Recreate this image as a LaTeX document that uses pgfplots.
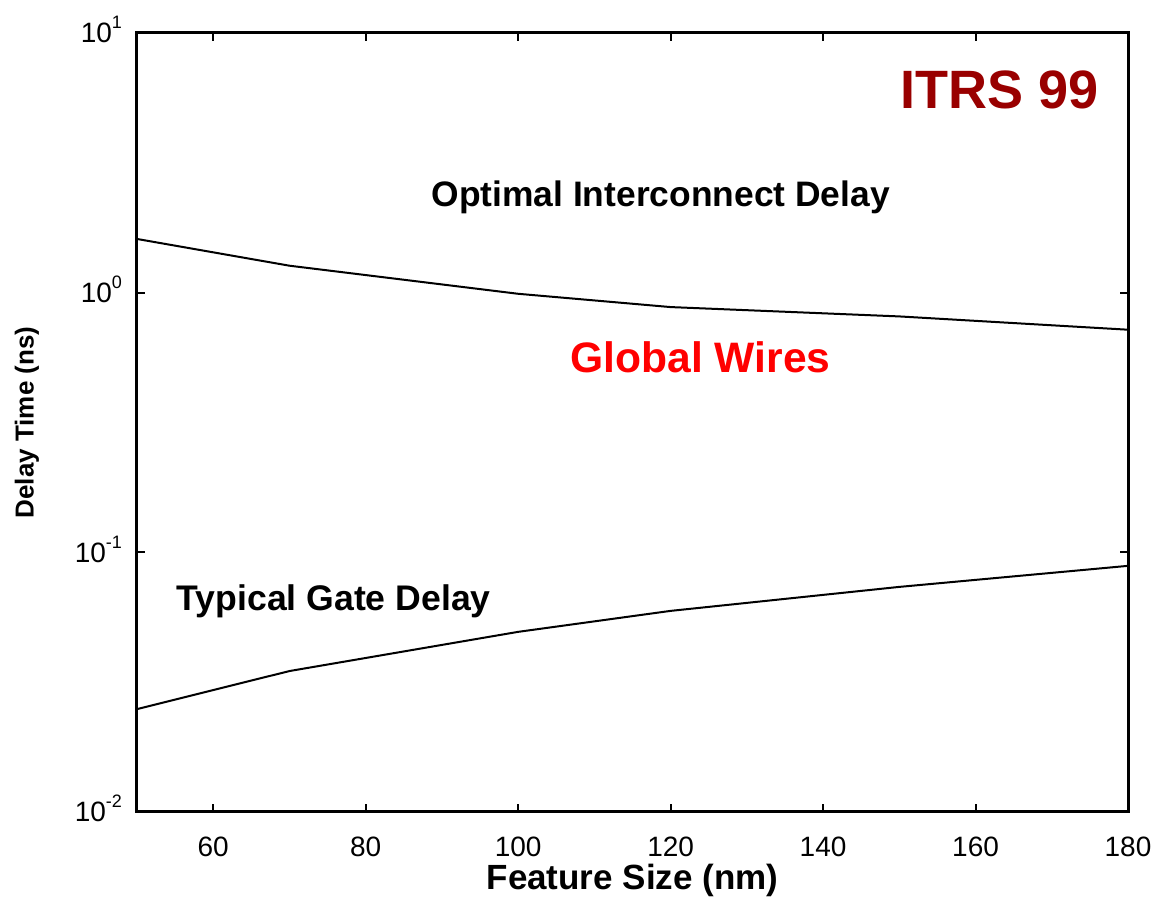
\documentclass[border=0pt]{standalone}
\usepackage{pgfplots}
\pgfplotsset{compat=1.18}
\usepackage{fontspec}
\setmainfont{Liberation Sans}
\definecolor{itrsred}{RGB}{153,0,0}
\newcommand{\tenexp}[1]{10\raisebox{0.5em}{\fontsize{9}{9}\selectfont #1}}
\begin{document}
\begin{tikzpicture}
\begin{axis}[
  scale only axis,
  width=495.5pt, height=389.5pt,
  ymode=log, log basis y=10,
  xmin=50, xmax=180, ymin=0.01, ymax=10,
  xtick={60,80,100,120,140,160,180},
  ytick={0.01,0.1,1,10},
  yticklabels={\tenexp{-2},\tenexp{-1},\tenexp{0},\tenexp{1}},
  minor ytick={},
  minor y tick num=0,
  tick align=inside,
  major tick length=4pt,
  every tick/.style={black, line width=1pt},
  axis line style={line width=1.5pt},
  /pgf/number format/assume math mode=true,
  tick label style={font=\fontsize{14}{16}\selectfont},
  xticklabel style={yshift=-9pt},
  yticklabel style={anchor=base east, yshift=-5pt, xshift=-4pt},
  xlabel={\textbf{Feature Size (nm)}},
  ylabel={\textbf{Delay Time (ns)}},
  xlabel style={font=\fontsize{17.5}{19}\selectfont, at={(axis description cs:0.5,-0.0873)}, anchor=center},
  ylabel style={font=\fontsize{13}{14}\selectfont, at={(axis description cs:-0.111,0.5)}, anchor=center},
  clip=false,
]
\addplot[black, line width=1pt] coordinates {(50,1.61) (70,1.27) (100,0.99) (120,0.88) (150,0.81) (180,0.72)};
\addplot[black, line width=1pt] coordinates {(50,0.0249) (70,0.0349) (100,0.0494) (120,0.0595) (150,0.0736) (180,0.0887)};
\node[font=\fontsize{27}{29}\selectfont\bfseries, text=itrsred] at (axis cs:163.2,6.03) {ITRS 99};
\node[font=\fontsize{17.7}{19}\selectfont\bfseries] at (axis cs:118.7,2.32) {Optimal Interconnect Delay};
\node[font=\fontsize{21.3}{23}\selectfont\bfseries, text=red] at (axis cs:123.9,0.565) {Global Wires};
\node[font=\fontsize{17.8}{19}\selectfont\bfseries] at (axis cs:75.8,0.065) {Typical Gate Delay};
\end{axis}
\pgfresetboundingbox
\path[use as bounding box] ([shift={(-68.5pt,-44pt)}]current axis.south west) rectangle ([shift={(14pt,16.5pt)}]current axis.north east);
\end{tikzpicture}
\end{document}
